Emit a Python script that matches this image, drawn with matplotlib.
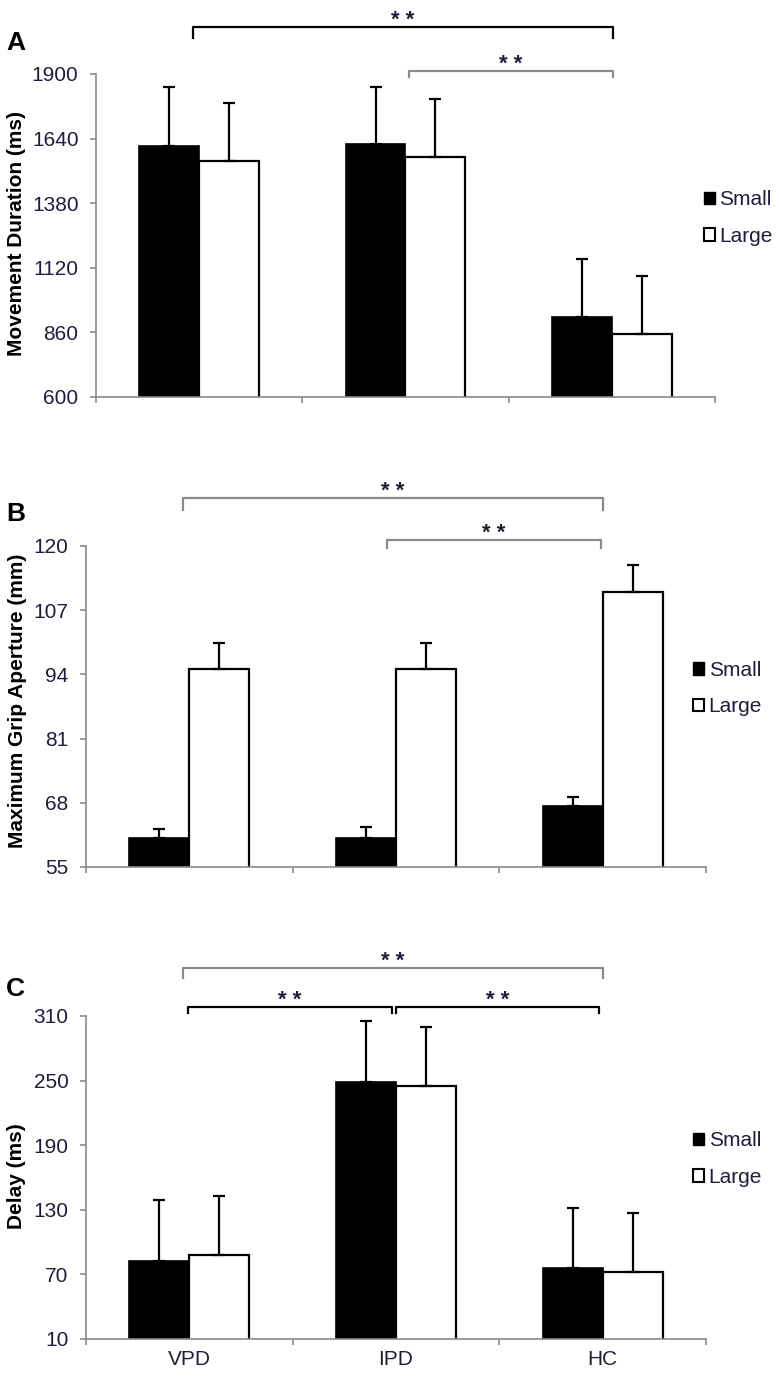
# Three stacked bar charts: movement duration, grip aperture, delay
import numpy as np
import matplotlib.pyplot as plt
from matplotlib.patches import Patch

plt.rcParams['font.family'] = ['Liberation Sans', 'DejaVu Sans']

# Data
groups = ['VPD', 'IPD', 'HC']
series = ['Small', 'Large']

md_small = [1611, 1620, 922]
md_small_err = [235, 226, 235]
md_large = [1549, 1565, 852]
md_large_err = [235, 236, 236]
md_ticks = [600, 860, 1120, 1380, 1640, 1900]

mga_small = [60.8, 60.8, 67.3]
mga_small_err = [1.9, 2.3, 1.9]
mga_large = [95.0, 95.0, 110.7]
mga_large_err = [5.4, 5.4, 5.5]
mga_ticks = [55, 68, 81, 94, 107, 120]

delay_small = [82.7, 248.7, 75.7]
delay_small_err = [56.7, 56.7, 56.0]
delay_large = [88.0, 245.3, 72.0]
delay_large_err = [54.8, 54.5, 54.7]
delay_ticks = [10, 70, 130, 190, 250, 310]

GRAY = '#8a8a8a'
TXT = '#1e1e3c'
FS = 15

fig = plt.figure(figsize=(7.79, 13.77), dpi=100)

# brackets: (x from, x to, y of bar, y of tips, colour) in data x / axes y
panels = [
    dict(rect=[0.1232, 0.7117, 0.7946, 0.2346], small=md_small, small_err=md_small_err,
         large=md_large, large_err=md_large_err, ticks=md_ticks, ylabel='Movement Duration (ms)',
         letter='A', letter_y=0.969, ylab_x=-0.113, ylab_y=0.505, leg_x=0.982, leg_y=0.554,
         brackets=[(-0.03, 2.006, 1.1455, 1.111, 'black'), (1.017, 2.006, 1.009, 0.99, GRAY)]),
    dict(rect=[0.1104, 0.3704, 0.7959, 0.2331], small=mga_small, small_err=mga_small_err,
         large=mga_large, large_err=mga_large_err, ticks=mga_ticks, ylabel='Maximum Grip Aperture (mm)',
         letter='B', letter_y=0.627, ylab_x=-0.095, ylab_y=0.517, leg_x=0.979, leg_y=0.556,
         brackets=[(-0.031, 2.001, 1.1495, 1.112, GRAY), (0.956, 1.99, 1.0187, 0.994, GRAY)]),
    dict(rect=[0.1104, 0.0276, 0.7959, 0.2346], small=delay_small, small_err=delay_small_err,
         large=delay_large, large_err=delay_large_err, ticks=delay_ticks, ylabel='Delay (ms)',
         letter='C', letter_y=0.282, ylab_x=-0.097, ylab_y=0.505, leg_x=0.979, leg_y=0.557,
         brackets=[(-0.031, 2.001, 1.1486, 1.118, GRAY), (-0.007, 0.98, 1.028, 1.009, 'black'),
                   (1.0, 1.982, 1.028, 1.009, 'black')]),
]

x = np.arange(len(groups))
w = 0.29

for i, p in enumerate(panels):
    ax = fig.add_axes(p['rect'])
    ax.bar(x - w / 2, p['small'], w, color='black', edgecolor='black', linewidth=1.2, zorder=2)
    ax.bar(x + w / 2, p['large'], w, color='white', edgecolor='black', linewidth=1.6, zorder=2)
    ax.errorbar(x - w / 2, p['small'], yerr=[np.zeros(3), p['small_err']], fmt='none',
                ecolor='black', elinewidth=1.6, capsize=4, capthick=1.6, zorder=3)
    ax.errorbar(x + w / 2, p['large'], yerr=[np.zeros(3), p['large_err']], fmt='none',
                ecolor='black', elinewidth=1.6, capsize=4, capthick=1.6, zorder=3)

    ax.set_xlim(-0.5, 2.5)
    ax.set_ylim(p['ticks'][0], p['ticks'][-1])
    ax.set_yticks(p['ticks'])
    for s in ['top', 'right']:
        ax.spines[s].set_visible(False)
    for s in ['left', 'bottom']:
        ax.spines[s].set_color(GRAY)
        ax.spines[s].set_linewidth(1.2)
    ax.tick_params(axis='y', direction='out', length=4.5, width=1.2, color=GRAY,
                   labelsize=FS, labelcolor=TXT, pad=8)
    ax.set_xticks(x)
    ax.set_xticks([-0.5, 0.5, 1.5, 2.5], minor=True)
    ax.tick_params(axis='x', which='major', length=0, labelsize=FS, labelcolor=TXT, pad=8)
    ax.tick_params(axis='x', which='minor', direction='out', length=4.5, width=1.2, color=GRAY)
    if i == 2:
        ax.set_xticklabels(groups)
    else:
        ax.set_xticklabels([])

    ax.set_ylabel(p['ylabel'], fontsize=FS, fontweight='bold', color='black')
    ax.yaxis.set_label_coords(p['ylab_x'], p['ylab_y'])

    fig.text(0.008, p['letter_y'], p['letter'], fontsize=19, fontweight='bold', va='center')

    handles = [Patch(facecolor='black', edgecolor='black', linewidth=1.0),
               Patch(facecolor='white', edgecolor='black', linewidth=1.5)]
    ax.legend(handles, series, loc='center left', bbox_to_anchor=(p['leg_x'], p['leg_y']),
              frameon=False, fontsize=FS, handlelength=0.55, handleheight=0.55,
              handletextpad=0.2, labelspacing=0.85, borderpad=0, borderaxespad=0,
              labelcolor=TXT)

    # significance brackets
    tr = ax.get_xaxis_transform()
    for (x1, x2, yb, yt, col) in p['brackets']:
        ax.plot([x1, x1, x2, x2], [yt, yb, yb, yt], color=col, linewidth=1.6,
                transform=tr, clip_on=False, solid_joinstyle='round')
        ax.annotate('* *', xy=((x1 + x2) / 2, yb), xycoords=tr, xytext=(0, 1),
                    textcoords='offset points', ha='center', va='baseline',
                    fontsize=16, fontweight='bold', color=TXT, annotation_clip=False)

fig.savefig('out.png', dpi=100)
